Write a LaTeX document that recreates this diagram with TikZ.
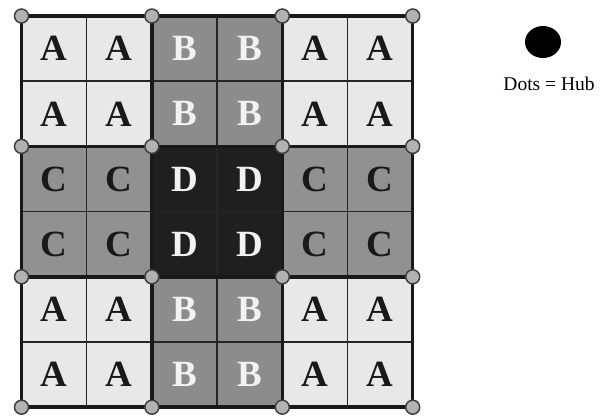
\documentclass[tikz,border=0pt]{standalone}
\usepackage{fontspec}
\usetikzlibrary{shapes.geometric}
\setmainfont{Liberation Serif}
\begin{document}
\begin{tikzpicture}[x=1pt,y=-1pt,
  cellbox/.style={draw=black!85,line width=1.5pt,minimum width=65.2pt,minimum height=65.2pt,inner sep=0pt,anchor=center,
    font=\fontsize{37}{40}\selectfont\bfseries},
  cellA/.style={cellbox,fill=black!9,text=black!90},
  cellB/.style={cellbox,fill=black!45,text=black!5},
  cellC/.style={cellbox,fill=black!43,text=black!90},
  cellD/.style={cellbox,fill=black!88,text=black!5},
  hubmark/.style={circle,draw=black!75,line width=1.5pt,fill=black!30,minimum size=14pt,inner sep=0pt},
  legdot/.style={ellipse,fill=black,minimum width=36pt,minimum height=32pt,inner sep=0pt},
]
\useasboundingbox (0,0) rectangle (602,418);
\def\cs{65.2}
\def\xo{21.5}
\def\yo{16}
% cells: row strings
\foreach \r/\row in {0/{A,A,B,B,A,A},1/{A,A,B,B,A,A},2/{C,C,D,D,C,C},3/{C,C,D,D,C,C},4/{A,A,B,B,A,A},5/{A,A,B,B,A,A}}{
  \foreach \t [count=\c from 0] in \row {
    \node[cell\t] (cell-\r-\c) at ({\xo+(\c+0.5)*\cs},{\yo+(\r+0.5)*\cs}) {\raisebox{-3pt}{\t}};
  }
}
% thick block borders
\foreach \i in {0,2,4,6}{
  \draw[line width=3.5pt,black!90] ({\xo+\i*\cs},\yo) -- ({\xo+\i*\cs},{\yo+6*\cs});
  \draw[line width=3.5pt,black!90] (\xo,{\yo+\i*\cs}) -- ({\xo+6*\cs},{\yo+\i*\cs});
}
% hubs
\foreach \i in {0,1,2,3}{
  \foreach \j in {0,1,2,3}{
    \node[hubmark] (hub-\i-\j) at ({\xo+2*\j*\cs},{\yo+2*\i*\cs}) {};
  }
}
% legend
\node[legdot] (legend-dot) at (543,42) {};
\node[font=\fontsize{19.5}{22}\selectfont,anchor=center] (legend-text) at (549,84) {Dots = Hub};
\end{tikzpicture}
\end{document}
